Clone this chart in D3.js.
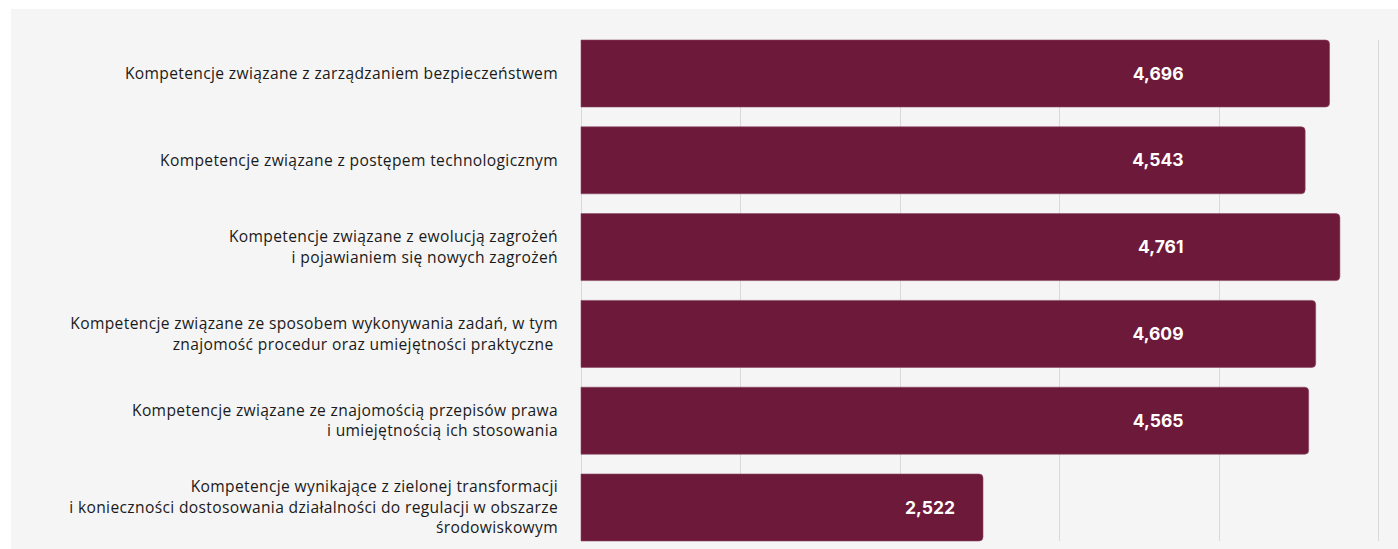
<!DOCTYPE html>
<html>
<head>
<meta charset="utf-8">
<script src="https://cdn.jsdelivr.net/npm/d3@7"></script>
<style>
  body { margin: 0; background: #fff; }
  svg { display: block; }
  .cat { font-family: "Open Sans", "Noto Sans", sans-serif; font-size: 15.6px; letter-spacing: 0.35px; fill: #1a1a1a; white-space: pre; }
  .val { font-family: Inter, Roboto, sans-serif; font-size: 17.5px; font-weight: 700; fill: #fff; }
</style>
</head>
<body>
<div class="chart"></div>
<script>
// category labels (lines of each label) and values
var categories = [
  ["Kompetencje związane z zarządzaniem bezpieczeństwem"],
  ["Kompetencje związane z postępem technologicznym"],
  ["Kompetencje związane z ewolucją zagrożeń", "i pojawianiem się nowych zagrożeń"],
  ["Kompetencje związane ze sposobem wykonywania zadań, w tym", "znajomość procedur oraz umiejętności praktyczne "],
  ["Kompetencje związane ze znajomością przepisów prawa", "i umiejętnością ich stosowania"],
  ["Kompetencje wynikające z zielonej transformacji", "i konieczności dostosowania działalności do regulacji w obszarze", "środowiskowym"]
];
var values = [4.696, 4.543, 4.761, 4.609, 4.565, 2.522];
var valueLabels = ["4,696", "4,543", "4,761", "4,609", "4,565", "2,522"];
var xTicks = [0, 1, 2, 3, 4, 5];

var svgWidth = 1398;
var svgHeight = 549;

var svg = d3.select(".chart")
  .append("svg")
  .attr("width", svgWidth)
  .attr("height", svgHeight);

// grey panel
svg.append("rect")
  .attr("x", 11)
  .attr("y", 9)
  .attr("width", svgWidth - 11)
  .attr("height", svgHeight - 9)
  .attr("fill", "#f5f5f5");

var xScale = d3.scaleLinear()
  .domain([0, 5])
  .range([581, 1378]);

var yScale = d3.scaleBand()
  .domain(d3.range(values.length))
  .range([40, 541])
  .paddingInner(0.228)
  .paddingOuter(0);

// gridlines
svg.append("g")
  .selectAll("line")
  .data(xTicks)
  .enter().append("line")
    .attr("x1", function(d) { return Math.round(xScale(d)) + 0.5; })
    .attr("x2", function(d) { return Math.round(xScale(d)) + 0.5; })
    .attr("y1", 40)
    .attr("y2", 541)
    .attr("stroke", "#d9d9d9")
    .attr("stroke-width", 1);

// bars: square on the left, rounded on the right
var r = 4;
svg.append("g")
  .selectAll("path")
  .data(values)
  .enter().append("path")
    .attr("d", function(d, i) {
      var x0 = xScale(0), x1 = xScale(d);
      var y0 = yScale(i), y1 = y0 + yScale.bandwidth();
      return "M" + x0 + "," + y0 +
        "H" + (x1 - r) +
        "Q" + x1 + "," + y0 + " " + x1 + "," + (y0 + r) +
        "V" + (y1 - r) +
        "Q" + x1 + "," + y1 + " " + (x1 - r) + "," + y1 +
        "H" + x0 + "Z";
    })
    .attr("fill", "#6d193a")
    .attr("stroke", "#8a4763")
    .attr("stroke-width", 0.6);

// value labels
svg.append("g")
  .selectAll("text")
  .data(values)
  .enter().append("text")
    .attr("class", "val")
    .attr("x", function(d) { return Math.min(xScale(d) - 28, xScale(3.78)); })
    .attr("y", function(d, i) { return yScale(i) + yScale.bandwidth() / 2; })
    .attr("dy", "0.35em")
    .attr("text-anchor", "end")
    .text(function(d, i) { return valueLabels[i]; });

// category labels
var lineH = 20.5;
var cat = svg.append("g")
  .selectAll("text")
  .data(categories)
  .enter().append("text")
    .attr("class", "cat")
    .attr("text-anchor", "end")
    .attr("y", function(d, i) {
      return yScale(i) + yScale.bandwidth() / 2 - (d.length - 1) * lineH / 2;
    });

cat.selectAll("tspan")
  .data(function(d) { return d; })
  .enter().append("tspan")
    .attr("x", 558)
    .attr("dy", function(d, j) { return j === 0 ? "0.35em" : lineH; })
    .text(function(d) { return d; });
</script>
</body>
</html>
